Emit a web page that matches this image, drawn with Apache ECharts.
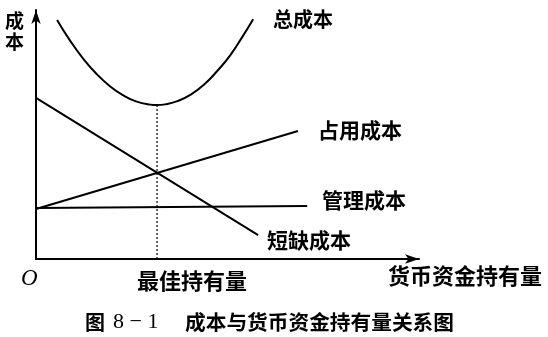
<!DOCTYPE html>
<html>
<head>
<meta charset="utf-8">
<script src="https://cdn.jsdelivr.net/npm/echarts@6/dist/echarts.min.js"></script>
<style>
html,body{margin:0;padding:0;background:#fff;}
#chart{width:548px;height:337px;}
</style>
</head>
<body>
<div id="chart"></div>
<script>
// Values read from the schematic (abstract units, x: 0-10, y: 0-10)
const totalCostX = [0.55, 0.89, 1.23, 1.57, 1.93, 2.27, 2.61, 2.98, 3.16, 3.37, 3.71, 4.05, 4.39, 4.72, 5.07, 5.40, 5.67];
const totalCostY = [9.60, 8.77, 8.05, 7.45, 6.94, 6.58, 6.33, 6.20, 6.18, 6.21, 6.35, 6.61, 7.01, 7.53, 8.18, 8.95, 9.63];
const shortageX = [0, 5.80];
const shortageY = [6.47, 0.96];
const occupancyX = [0, 6.84];
const occupancyY = [2.01, 5.14];
const managementX = [0, 7.08];
const managementY = [2.05, 2.13];
const optimalX = 3.16;
const optimalY = 6.18;

const labels = {
  yName: '成\n本',
  total: '总成本',
  occupancy: '占用成本',
  management: '管理成本',
  shortage: '短缺成本',
  xName: '货币资金持有量',
  optimal: '最佳持有量',
  origin: 'O',
  capFig: '图',
  capNum: '8 − 1',
  capText: '成本与货币资金持有量关系图'
};

const zip = (xs, ys) => xs.map((x, i) => [x, ys[i]]);

const CJK = '"Noto Sans CJK SC", sans-serif';
const chart = echarts.init(document.getElementById('chart'), null, {renderer: 'canvas'});

function txt(text, left, cy, size, extra) {
  return Object.assign({
    type: 'text', left: left, top: cy - size / 2 - 1,
    style: Object.assign({text: text, fill: '#000', font: 'bold ' + size + 'px ' + CJK}, extra || {})
  });
}

const lineStyle = {color: '#000', width: 2};

chart.setOption({
  backgroundColor: '#fff',
  animation: false,
  grid: {left: 36, right: 129, top: 10, bottom: 78},
  xAxis: {
    type: 'value', min: 0, max: 10,
    axisLine: {show: true, onZero: false, symbol: ['none', 'arrow'], symbolSize: [7, 14], lineStyle: {color: '#000', width: 2}},
    axisTick: {show: false}, axisLabel: {show: false}, splitLine: {show: false}
  },
  yAxis: {
    type: 'value', min: 0, max: 10,
    axisLine: {show: true, onZero: false, symbol: ['none', 'arrow'], symbolSize: [7, 14], lineStyle: {color: '#000', width: 2}},
    axisTick: {show: false}, axisLabel: {show: false}, splitLine: {show: false}
  },
  series: [
    {type: 'line', data: zip(totalCostX, totalCostY), smooth: true, symbol: 'none', lineStyle: lineStyle},
    {type: 'line', data: zip(shortageX, shortageY), symbol: 'none', lineStyle: lineStyle},
    {type: 'line', data: zip(occupancyX, occupancyY), symbol: 'none', lineStyle: lineStyle},
    {type: 'line', data: zip(managementX, managementY), symbol: 'none', lineStyle: lineStyle},
    {type: 'line', data: [[optimalX, 0], [optimalX, optimalY]], symbol: 'none',
     lineStyle: {color: '#000', width: 1.2, type: [2, 2]}}
  ],
  graphic: [
    {type: 'text', left: 5, top: 10, style: {text: labels.yName, fill: '#000', font: 'bold 19px ' + CJK, lineHeight: 21}},
    txt(labels.total, 273, 20, 20),
    txt(labels.occupancy, 318, 131, 21),
    txt(labels.management, 322, 201, 21),
    txt(labels.shortage, 267, 241, 21),
    txt(labels.xName, 388, 277, 22),
    txt(labels.optimal, 137, 282, 22),
    {type: 'text', left: 21, top: 267, style: {text: labels.origin, fill: '#000', font: 'italic 23px "Liberation Serif", serif'}},
    txt(labels.capFig, 85, 323, 20),
    {type: 'text', left: 113, top: 311, style: {text: labels.capNum, fill: '#000', font: '22px "Liberation Serif", serif'}},
    txt(labels.capText, 185, 323, 20.7)
  ]
});
</script>
</body>
</html>
